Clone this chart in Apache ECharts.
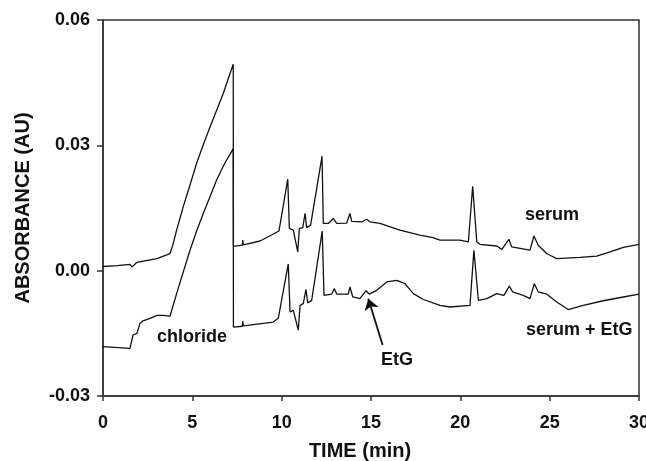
<!DOCTYPE html>
<html>
<head>
<meta charset="utf-8">
<script src="https://cdn.jsdelivr.net/npm/echarts@6/dist/echarts.min.js"></script>
<style>
  html, body { margin: 0; padding: 0; background: #fff; }
  #chart { width: 646px; height: 461px; }
</style>
</head>
<body>
<div id="chart"></div>
<script>
// time (min) and absorbance (AU)
var serumTime = [0, 0.8, 1.51, 1.62, 1.90, 3.02, 3.75, 3.92, 4.12, 4.49, 4.87, 5.24, 5.60, 5.99, 6.36, 6.73, 7.00, 7.29, 7.30,
  7.80, 7.82, 7.86, 8.79, 9.85, 10.34, 10.43, 10.65, 10.90, 10.99, 11.18, 11.31, 11.40, 11.62,
  12.26, 12.33, 12.61, 12.89, 13.08, 13.64, 13.82, 13.92, 14.50, 14.76, 14.94, 15.50, 16.62,
  17.74, 18.47, 18.86, 19.98, 20.45, 20.69, 20.92, 21.10, 22.04, 22.32, 22.72, 22.87, 23.90,
  24.12, 24.36, 24.83, 25.39, 26.70, 27.63, 28.38, 29.12, 30];
var serumAbs = [0.0010, 0.0012, 0.0015, 0.0009, 0.0020, 0.0029, 0.0041, 0.0063, 0.0097, 0.0153, 0.0205, 0.0257, 0.0300, 0.0344, 0.0384, 0.0424, 0.0458, 0.0494, 0.0058,
  0.0061, 0.0073, 0.0062, 0.0071, 0.0095, 0.0219, 0.0101, 0.0097, 0.0045, 0.0101, 0.0103, 0.0137, 0.0103, 0.0109,
  0.0274, 0.0113, 0.0113, 0.0125, 0.0113, 0.0114, 0.0137, 0.0118, 0.0117, 0.0123, 0.0117, 0.0113, 0.0097,
  0.0085, 0.0079, 0.0073, 0.0073, 0.0069, 0.0202, 0.0069, 0.0063, 0.0059, 0.0051, 0.0075, 0.0057, 0.0049,
  0.0083, 0.0061, 0.0041, 0.0029, 0.0032, 0.0035, 0.0045, 0.0056, 0.0063];

var etgTime = [0, 1.51, 1.68, 1.90, 2.07, 2.24, 2.63, 3.02, 3.36, 3.75, 4.12, 4.50, 4.87, 5.24, 5.61, 6.00, 6.36, 6.80, 7.29, 7.30,
  7.80, 7.82, 7.86, 9.53, 9.81, 10.37, 10.47, 10.65, 10.93, 11.03, 11.21, 11.36, 11.46, 11.68,
  12.27, 12.37, 12.80, 12.95, 13.08, 13.73, 13.82, 13.98, 14.38, 14.72, 14.90, 15.32, 15.88,
  16.44, 16.90, 17.37, 17.93, 18.86, 19.42, 20.54, 20.76, 21.01, 21.48, 22.04, 22.44, 22.74,
  22.93, 23.52, 23.90, 24.14, 24.36, 24.83, 25.39, 26.04, 26.88, 28.00, 29.12, 30];
var etgAbs = [-0.0182, -0.0186, -0.0154, -0.0150, -0.0126, -0.0120, -0.0114, -0.0107, -0.0107, -0.0109, -0.0055, -0.0002, 0.0049, 0.0095, 0.0137, 0.0178, 0.0217, 0.0256, 0.0292, -0.0135,
  -0.0133, -0.0121, -0.0132, -0.0123, -0.0114, 0.0016, -0.0099, -0.0095, -0.0142, -0.0083, -0.0079, -0.0045, -0.0077, -0.0071,
  0.0095, -0.0059, -0.0056, -0.0043, -0.0056, -0.0056, -0.0039, -0.0063, -0.0067, -0.0048, -0.0056, -0.0047, -0.0027,
  -0.0023, -0.0031, -0.0055, -0.0069, -0.0083, -0.0087, -0.0083, 0.0049, -0.0071, -0.0067, -0.0055, -0.0059, -0.0037,
  -0.0051, -0.0059, -0.0067, -0.0031, -0.0051, -0.0056, -0.0075, -0.0093, -0.0083, -0.0072, -0.0063, -0.0056];

var xTicks = [0, 5, 10, 15, 20, 25, 30];
var yTicks = [-0.03, 0.00, 0.03, 0.06];

// arrow pointing at the EtG peak: [tail, head] in (min, AU)
var etgArrow = [[15.65, -0.0178], [14.85, -0.0067]];

function zip(t, v) {
  return t.map(function (x, i) { return [x, v[i]]; });
}

var ink = "#111";
var font = "Liberation Sans, Arial, sans-serif";

var chart = echarts.init(document.getElementById("chart"));
var option = {
  animation: false,
  backgroundColor: "#fff",
  grid: {
    left: 103, right: 7, top: 20, bottom: 65,
    outerBoundsMode: "none",
    containLabel: false,
    show: true, borderColor: "#333", borderWidth: 1.5
  },
  xAxis: {
    type: "value",
    min: xTicks[0], max: xTicks[xTicks.length - 1], interval: 5,
    name: "TIME (min)",
    nameLocation: "middle",
    nameGap: 45,
    nameTextStyle: { fontFamily: font, fontWeight: "bold", fontSize: 20, color: ink, padding: [0, 22, 0, 0] },
    axisLine: { show: true, onZero: false, lineStyle: { color: "#333", width: 1.5 } },
    axisTick: { show: true, inside: false, length: 5, lineStyle: { color: "#333", width: 1.5 } },
    axisLabel: { margin: 18, fontFamily: font, fontWeight: "bold", fontSize: 18, color: ink },
    splitLine: { show: false }
  },
  yAxis: {
    type: "value",
    min: yTicks[0], max: yTicks[yTicks.length - 1], interval: 0.03,
    name: "ABSORBANCE (AU)",
    nameLocation: "middle",
    nameGap: 70,
    nameTextStyle: { fontFamily: font, fontWeight: "bold", fontSize: 20, color: ink },
    axisLine: { show: true, onZero: false, lineStyle: { color: "#333", width: 1.5 } },
    axisTick: { show: true, inside: false, length: 6, lineStyle: { color: "#333", width: 1.5 } },
    axisLabel: {
      margin: 13, fontFamily: font, fontWeight: "bold", fontSize: 18, color: ink,
      formatter: function (v) { return v.toFixed(2); }
    },
    splitLine: { show: false }
  },
  series: [
    {
      name: "serum",
      type: "line",
      data: zip(serumTime, serumAbs),
      showSymbol: false,
      lineStyle: { color: ink, width: 1.3 },
      silent: true
    },
    {
      name: "serum + EtG",
      type: "line",
      data: zip(etgTime, etgAbs),
      showSymbol: false,
      lineStyle: { color: ink, width: 1.3 },
      silent: true,
      markLine: {
        silent: true,
        symbol: ["none", "arrow"],
        symbolSize: 11,
        label: { show: false },
        lineStyle: { color: ink, width: 1.8, type: "solid" },
        data: [[{ coord: etgArrow[0] }, { coord: etgArrow[1] }]]
      }
    }
  ],
  graphic: [
    { type: "text", left: 525, top: 206, style: { text: "serum", font: "bold 18px " + font, fill: ink } },
    { type: "text", left: 526, top: 321, style: { text: "serum + EtG", font: "bold 18px " + font, fill: ink } },
    { type: "text", left: 157, top: 328, style: { text: "chloride", font: "bold 18px " + font, fill: ink } },
    { type: "text", left: 381, top: 351, style: { text: "EtG", font: "bold 18px " + font, fill: ink } }
  ]
};
chart.setOption(option);
</script>
</body>
</html>
